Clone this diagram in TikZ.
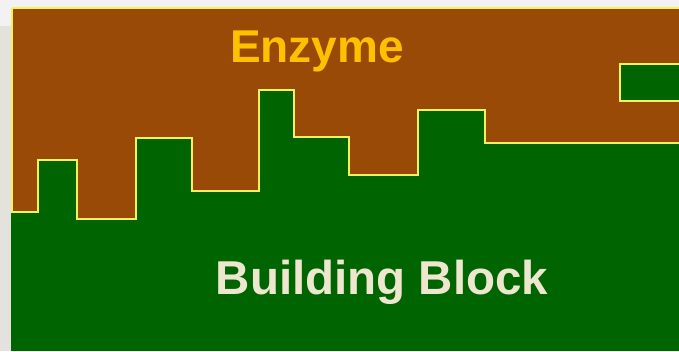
\documentclass[tikz,border=0pt]{standalone}
\usepackage{fontspec}
\setmainfont{Liberation Sans}
\usetikzlibrary{positioning}
\definecolor{enzbrown}{HTML}{9A4A07}
\definecolor{blockgreen}{HTML}{006400}
\definecolor{edgeyellow}{HTML}{F4F060}
\definecolor{enzgold}{HTML}{FFC000}
\definecolor{blockbeige}{HTML}{EEE7CF}
\definecolor{pagegray}{HTML}{F2F2F4}
\definecolor{stripgray}{HTML}{E4E2DC}

\begin{document}
\begin{tikzpicture}[x=1pt,y=-1pt,
  outline/.style={draw=edgeyellow,line width=1.2pt,line join=miter},
  label/.style={font=\bfseries\fontsize{46}{46}\selectfont,anchor=base,inner sep=0pt}]
\useasboundingbox (0,0) rectangle (679,351);
\fill[pagegray] (0,0) rectangle (679,351);
\fill[stripgray] (0,26) rectangle (11,351);
\fill[blockgreen] (11,24) rectangle (679,351);
\fill[enzbrown] (12,8)--(679,8)--(679,143)--(485,143)--(485,110)--(418,110)--(418,175)--(349,175)--(349,137)--(294,137)--(294,90)--(259,90)--(259,191)--(192,191)--(192,138)--(136,138)--(136,219)--(77,219)--(77,160)--(38,160)--(38,212)--(12,212)--cycle;
\draw[outline] (12,8)--(679,8);
\draw[outline] (679,143)--(485,143)--(485,110)--(418,110)--(418,175)--(349,175)--(349,137)--(294,137)--(294,90)--(259,90)--(259,191)--(192,191)--(192,138)--(136,138)--(136,219)--(77,219)--(77,160)--(38,160)--(38,212)--(12,212)--(12,8);
\fill[blockgreen] (620,64) rectangle (679,101);
\draw[outline] (679,64)--(620,64)--(620,101)--(679,101);
\node[label, text=enzgold] (enzyme) at (317,62) {Enzyme};
\node[label, text=blockbeige, font=\bfseries\fontsize{47.5}{47.5}\selectfont] (block) at (382,294) {Building Block};
\end{tikzpicture}
\end{document}
